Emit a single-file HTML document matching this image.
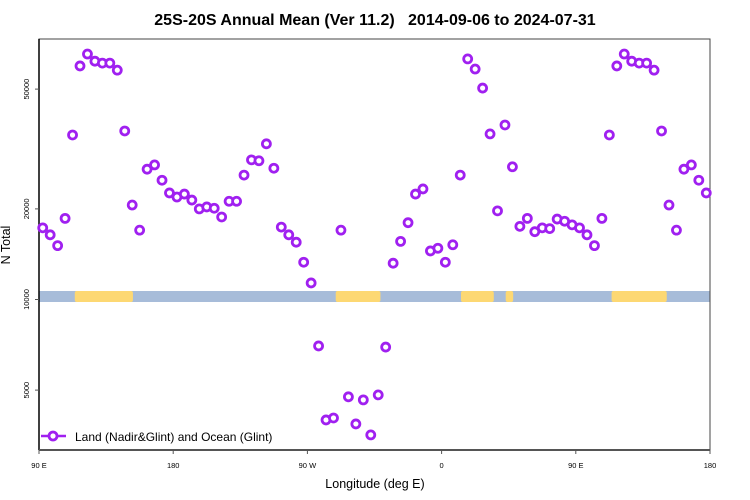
<!DOCTYPE html>
<html><head><meta charset="utf-8"><style>
body{margin:0;background:#fff}
svg{display:block;font-family:"Liberation Sans",sans-serif}
</style></head><body>
<svg id="c" width="750" height="500">
<text x="375" y="25" text-anchor="middle" font-size="16" font-weight="bold" style="white-space:pre">25S-20S Annual Mean (Ver 11.2)   2014-09-06 to 2024-07-31</text>
<text x="375" y="488" text-anchor="middle" font-size="12.5">Longitude (deg E)</text>
<text transform="translate(10,245) rotate(-90)" text-anchor="middle" font-size="12.5">N Total</text>
<g id="band"></g>
<g id="axes"></g>
<g id="pts"></g>
<g>
<line x1="41" y1="436" x2="66" y2="436" stroke="#a020f0" stroke-width="2.5"/>
<circle cx="53" cy="436" r="4" fill="#fff" stroke="#a020f0" stroke-width="2.8"/>
<text x="75" y="441" font-size="12">Land (Nadir&amp;Glint) and Ocean (Glint)</text>
</g>
</svg>
<script>
const values=[17300,16400,15100,18600,35200,59700,65400,61900,61000,61000,57800,36300,20600,17000,27100,28000,24900,22600,21900,22400,21400,20000,20300,20100,18800,21200,21200,25900,29100,28900,32900,27300,17400,16400,15500,13300,11350,7010,3980,4040,17000,4750,3860,4640,3550,4820,6950,13200,15600,18000,22400,23300,14500,14800,13300,15200,25900,63000,58300,50400,35500,19700,38000,27600,17500,18600,16800,17300,17200,18500,18200,17700];
const startLon=92.5, stepLon=5, nPoints=90;
const yTicks=[5000,10000,20000,50000];
const xTickLons=[90,180,270,360,450,540];
const xTickLabels=["90 E","180","90 W","0","90 E","180"];
const landRanges=[[114,153],[289,319],[373,395],[403,408],[474,511]];
const NS='http://www.w3.org/2000/svg';
const X0=39,X1=710,Y0=39,Y1=450,LON0=90,LON1=540;
const xs=l=>X0+(l-LON0)*(X1-X0)/(LON1-LON0);
const ys=v=>299.5-301*Math.log10(v/10000);
function mk(t,a,p){const e=document.createElementNS(NS,t);for(const k in a)e.setAttribute(k,a[k]);p.appendChild(e);return e;}
const band=document.getElementById('band');
let r=mk('rect',{x:X0,y:291,width:X1-X0,height:11,fill:'#a7bcd9'},band);


landRanges.forEach(([a,b])=>{
 const e=mk('rect',{x:xs(a),y:291,width:xs(b)-xs(a),height:11,rx:2,fill:'#fdd873'},band);
 
 
});
const ax=document.getElementById('axes');
mk('rect',{x:X0,y:Y0,width:X1-X0,height:Y1-Y0,fill:'none',stroke:'#444','stroke-width':1},ax);
mk('line',{x1:X0,y1:Y0,x2:X0,y2:Y1,stroke:'#000','stroke-width':1.5},ax);
mk('line',{x1:X0,y1:Y1,x2:X1,y2:Y1,stroke:'#555','stroke-width':2},ax);
yTicks.forEach(v=>{
 const y=ys(v);
 mk('line',{x1:X0-4,y1:y,x2:X0,y2:y,stroke:'#555'},ax);
 const t=mk('text',{transform:`translate(29,${y}) rotate(-90)`,'text-anchor':'middle','font-size':7.5},ax);
 t.textContent=v;
 
 
});
xTickLons.forEach((l,i)=>{
 const x=xs(l);
 mk('line',{x1:x,y1:Y1,x2:x,y2:Y1+4,stroke:'#555'},ax);
 const t=mk('text',{x:x,y:468,'text-anchor':'middle','font-size':7.5},ax);
 t.textContent=xTickLabels[i];
 
 
});
const pts=document.getElementById('pts');
for(let k=0;k<nPoints;k++){
 const v=values[k%values.length];
 const c=mk('circle',{cx:xs(startLon+k*stepLon),cy:ys(v),r:4,fill:'#fff',stroke:'#a020f0','stroke-width':2.8},pts);
 
 
}
</script>
</body></html>
